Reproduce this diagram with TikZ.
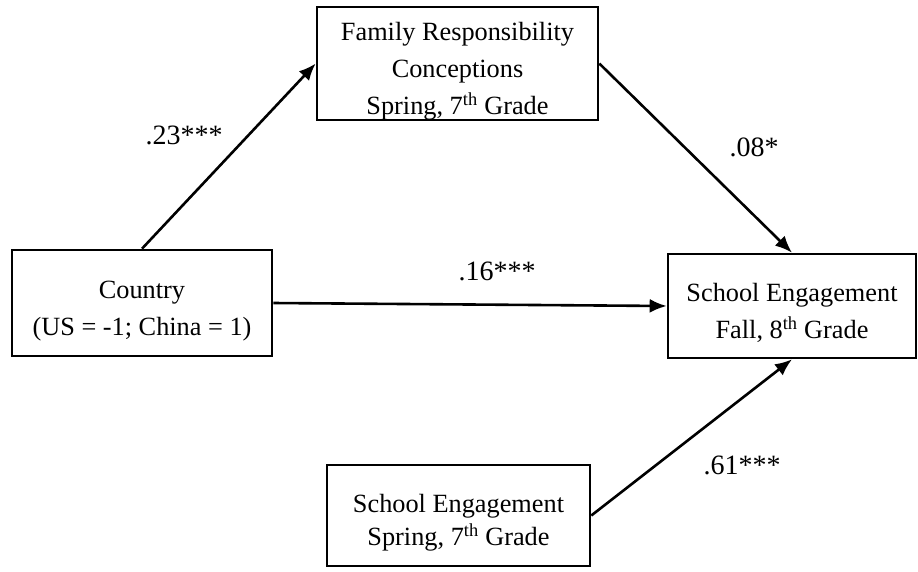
\documentclass[tikz,border=0pt]{standalone}
\usepackage{fontspec}
\setmainfont{Liberation Serif}
\usetikzlibrary{positioning,arrows.meta}

\newcommand{\topgap}{\rule{0pt}{33pt}}

\tikzset{
    varbox/.style={rectangle, draw, line width=2.6pt, align=center, inner sep=0pt,
        font=\fontsize{26.3}{37}\selectfont},
    path/.style={line width=2.6pt, -{Latex[length=17pt,width=14pt]}},
    coef/.style={font=\fontsize{28}{30}\selectfont, inner sep=0pt}
}

\begin{document}
\begin{tikzpicture}[x=1pt,y=-1pt]
    \useasboundingbox (0,0) rectangle (918,571);
    % variables
    \node(family) [varbox, minimum width=281pt, minimum height=107pt] at (457.5,63.5) {\topgap Family Responsibility\\Conceptions\\Spring, 7\textsuperscript{th} Grade};
    \node(country) [varbox, minimum width=260pt, minimum height=106pt] at (142,303) {\topgap Country\\(US = -1; China = 1)};
    \node(fall) [varbox, minimum width=248pt, minimum height=104pt] at (792,306) {\topgap School Engagement\\Fall, 8\textsuperscript{th} Grade};
    \node(spring) [varbox, minimum width=263pt, minimum height=101pt, font=\fontsize{26.3}{33}\selectfont] at (458.5,515.5) {\topgap School Engagement\\Spring, 7\textsuperscript{th} Grade};
    % paths
    \draw[path] (country.north) -- (family.west);
    \draw[path] (family.east) -- (fall.north);
    \draw[path] (country.east) -- (fall.west);
    \draw[path] (spring.east) -- (fall.south);
    % coefficients
    \node(a) [coef] at (184,135) {.23***};
    \node(b) [coef] at (754,147) {.08*};
    \node(c) [coef] at (497,271) {.16***};
    \node(d) [coef] at (742,465) {.61***};
\end{tikzpicture}
\end{document}
